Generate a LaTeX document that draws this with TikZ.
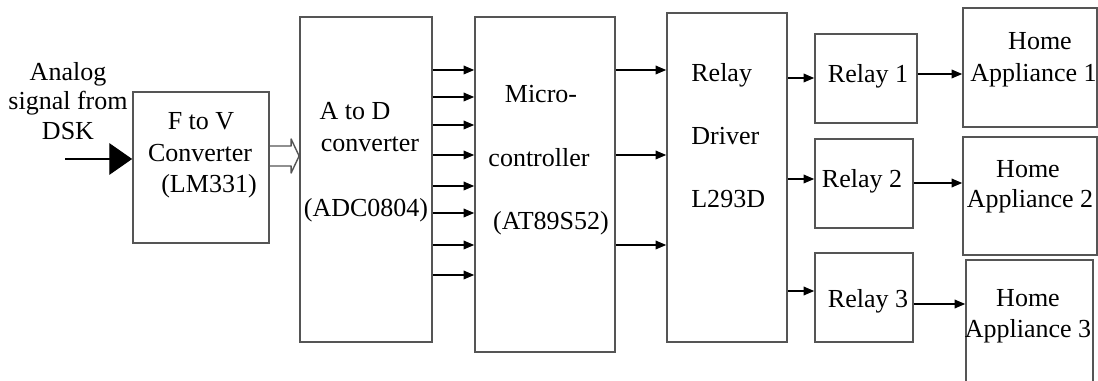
\documentclass[tikz,border=0pt]{standalone}
\usepackage{fontspec}
\setmainfont{Liberation Serif}
\usetikzlibrary{arrows.meta}
\usetikzlibrary{fit}
\usetikzlibrary{calc}
\definecolor{boxgray}{HTML}{555555}
\tikzstyle{block}=[draw=boxgray,line width=1pt,inner sep=0pt]
\tikzstyle{txt}=[inner sep=0pt,text height=1.45ex,text depth=0.3ex]
\tikzstyle{sig}=[line width=0.6pt,-{Triangle[length=6pt,width=5pt]}]
\newcommand{\blockbox}[3]{% name, top left, bottom right (in pixels)
  \node[block,fit={#2 #3}] (#1) {};
}
\begin{document}
\begin{tikzpicture}[x=0.02cm,y=-0.02cm,font=\fontsize{14.8}{17}\selectfont]
\clip (0,0) rectangle (1098,381);
\fill[white] (0,0) rectangle (1098,381);
% main chain
\blockbox{fv}{(133,92)}{(269,243)}
\blockbox{adc}{(300,17)}{(432,342)}
\blockbox{mcu}{(475,17)}{(615,352)}
\blockbox{drv}{(667,13)}{(787,342)}
% relays
\blockbox{rly1}{(815,34)}{(917,123)}
\blockbox{rly2}{(815,139)}{(913,228)}
\blockbox{rly3}{(815,253)}{(913,342)}
% loads
\blockbox{app1}{(963,8)}{(1097,127)}
\blockbox{app2}{(963,137)}{(1097,255)}
\blockbox{app3}{(966,260)}{(1093,395)}

% labels
\node[align=center,inner sep=0pt] (src) at (68,101) {Analog\\signal from\\DSK};
\node[txt] (fv1) at (201,125) {F to V};
\node[txt] (fv2) at (200,157) {Converter};
\node[txt] (fv3) at (209,188) {(LM331)};
\node[txt] (adc1) at (355,115) {A to D};
\node[txt] (adc2) at (370,147) {converter};
\node[txt] (adc3) at (366,212) {(ADC0804)};
\node[txt] (mcu1) at (541,98) {Micro-};
\node[txt] (mcu2) at (539,162) {controller};
\node[txt] (mcu3) at (551,225) {(AT89S52)};
\node[txt,anchor=west] (drv1) at (691,77) {Relay};
\node[txt,anchor=west] (drv2) at (691,140) {Driver};
\node[txt,anchor=west] (drv3) at (691,203) {L293D};
\node[txt] (rl1) at (868,78) {Relay 1};
\node[txt] (rl2) at (862,183) {Relay 2};
\node[txt] (rl3) at (868,303) {Relay 3};
\node[txt] (ap1a) at (1040,45) {Home};
\node[txt,anchor=west] (ap1b) at (970,77) {Appliance 1};
\node[txt] (ap2a) at (1028,173) {Home};
\node[txt] (ap2b) at (1030,203) {Appliance 2};
\node[txt] (ap3a) at (1028,302) {Home};
\node[txt] (ap3b) at (1028,333) {Appliance 3};

% input signal
\coordinate (in) at (65,159);
\draw[line width=0.6pt,-{Triangle[length=13pt,width=18pt]}] (in) -- (fv.west |- in);
% F/V to ADC, hollow bus arrow
\coordinate (busA) at (fv.east |- 0,156);
\coordinate (busB) at (adc.west |- 0,156);
\draw[boxgray,line width=0.8pt,line join=round] ($(busA)+(0,-10)$) -- ($(busB)+(-8,-10)$)
  -- ($(busB)+(-8,-17)$) -- (busB) -- ($(busB)+(-8,17)$) -- ($(busB)+(-8,10)$) -- ($(busA)+(0,10)$);
% 8 data lines
\foreach \y in {70,97,125,155,186,213,245,275}
  \draw[sig] (adc.east |- 0,\y) -- (mcu.west |- 0,\y);
\foreach \y in {70,155,245}
  \draw[sig] (mcu.east |- 0,\y) -- (drv.west |- 0,\y);
\draw[sig] (drv.east |- 0,78) -- (rly1.west |- 0,78);
\draw[sig] (drv.east |- 0,179) -- (rly2.west |- 0,179);
\draw[sig] (drv.east |- 0,291) -- (rly3.west |- 0,291);
\draw[sig] (rly1.east |- 0,74) -- (app1.west |- 0,74);
\draw[sig] (rly2.east |- 0,183) -- (app2.west |- 0,183);
\draw[sig] (rly3.east |- 0,304) -- (app3.west |- 0,304);
\end{tikzpicture}
\end{document}
